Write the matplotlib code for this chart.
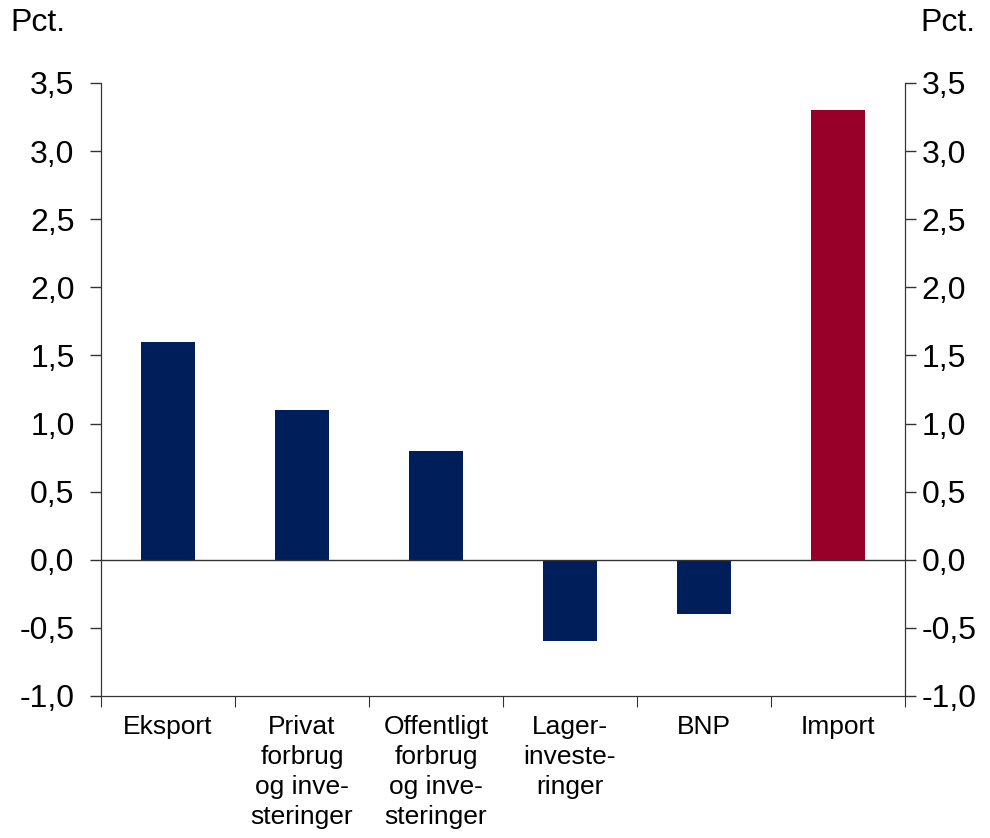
import matplotlib.pyplot as plt
import numpy as np

plt.rcParams['font.family'] = ['Liberation Sans', 'DejaVu Sans']

categories = ["Eksport", "Privat\nforbrug\nog inve-\nsteringer", "Offentligt\nforbrug\nog inve-\nsteringer",
              "Lager-\ninveste-\nringer", "BNP", "Import"]
values = [1.6, 1.1, 0.8, -0.6, -0.4, 3.3]
colors = ["#001E5A"] * 5 + ["#990029"]
yticks = [-1.0, -0.5, 0.0, 0.5, 1.0, 1.5, 2.0, 2.5, 3.0, 3.5]
yticklabels = [f"{v:.1f}".replace(".", ",") for v in yticks]

fig = plt.figure(figsize=(9.9, 8.38), dpi=100)
ax = fig.add_axes([0.102, 0.1695, 0.812, 0.7315])

x = np.arange(len(categories))
ax.bar(x, values, width=0.4, color=colors, zorder=2)
ax.axhline(0, color="#333333", lw=1, zorder=3)

ax.set_xlim(-0.5, len(categories) - 0.5)
ax.set_ylim(-1.0, 3.5)
ax.set_yticks(yticks)
ax.set_yticklabels(yticklabels, fontsize=23)
ax.tick_params(axis='y', direction='out', length=8, width=1, color="#333333", pad=11)

ax2 = ax.twinx()
ax2.set_ylim(-1.0, 3.5)
ax2.set_yticks(yticks)
ax2.set_yticklabels(yticklabels, fontsize=23)
ax2.tick_params(axis='y', direction='out', length=8, width=1, color="#333333", pad=4)

ax.set_xticks(np.arange(len(categories) + 1) - 0.5)
ax.set_xticklabels([])
ax.set_xticks(x, minor=True)
ax.set_xticklabels(categories, minor=True, fontsize=19, linespacing=1.3, va='top')
ax.tick_params(axis='x', which='major', direction='out', length=8, color="#333333")
ax.tick_params(axis='x', which='minor', length=0, pad=14)

for a in (ax, ax2):
    a.spines['top'].set_visible(False)
    for s in ['left', 'right', 'bottom']:
        a.spines[s].set_color("#333333")

fig.text(0.01, 0.972, "Pct.", fontsize=23, va='center', ha='left')
fig.text(0.985, 0.972, "Pct.", fontsize=23, va='center', ha='right')

fig.savefig("out.png", dpi=100)
